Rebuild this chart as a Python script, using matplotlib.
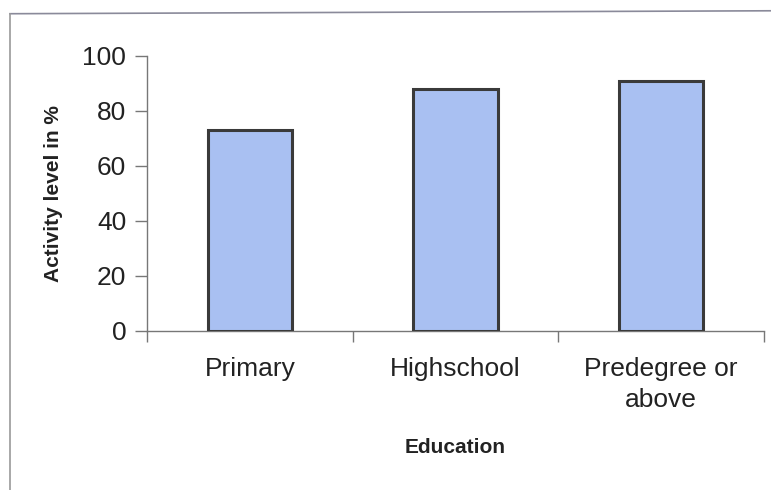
import matplotlib
matplotlib.use("Agg")
import matplotlib.pyplot as plt
from matplotlib.lines import Line2D
import numpy as np

categories = ["Primary", "Highschool", "Predegree or\nabove"]
activity = [73, 88, 91]
yticks = [0, 20, 40, 60, 80, 100]

plt.rcParams["font.family"] = ["Liberation Sans", "DejaVu Sans"]

fig = plt.figure(figsize=(7.71, 4.90), dpi=100)
ax = fig.add_axes([0.1907, 0.3245, 0.8003, 0.5615])

x = np.arange(len(categories))
ax.bar(x, activity, width=0.41, color="#a9c0f2",
       edgecolor="#3a3a3a", linewidth=2.2, zorder=3)

ax.set_xlim(-0.5, len(categories) - 0.5)
ax.set_ylim(0, 100)
ax.set_yticks(yticks)
ax.set_yticklabels([str(v) for v in yticks], fontsize=19, color="#222222")

# category labels centred under bars, tick marks on category boundaries
ax.set_xticks(x)
ax.set_xticklabels(categories, fontsize=19, color="#222222", linespacing=1.35)
ax.tick_params(axis="x", which="major", length=0, pad=19)
ax.set_xticks(np.arange(-0.5, len(categories)), minor=True)
ax.tick_params(axis="x", which="minor", length=8, width=1, color="#777777",
               direction="out")
ax.tick_params(axis="y", length=9, width=1, color="#777777", pad=6,
               direction="out")

for side in ("top", "right"):
    ax.spines[side].set_visible(False)
for side in ("left", "bottom"):
    ax.spines[side].set_color("#777777")
    ax.spines[side].set_linewidth(1.0)

ax.set_ylabel("Activity level in %", fontsize=15, fontweight="bold",
              color="#222222", labelpad=14)
ax.set_xlabel("Education", fontsize=15, fontweight="bold", color="#222222",
              labelpad=19)

# chart area frame
fig.add_artist(Line2D([0.013, 1.0], [0.972, 0.978], transform=fig.transFigure,
                      color="#8a8a9a", linewidth=1.2))
fig.add_artist(Line2D([0.013, 0.013], [0.0, 0.972], transform=fig.transFigure,
                      color="#9a9a9a", linewidth=1.2))

fig.savefig("out.png", dpi=100, facecolor="white")
